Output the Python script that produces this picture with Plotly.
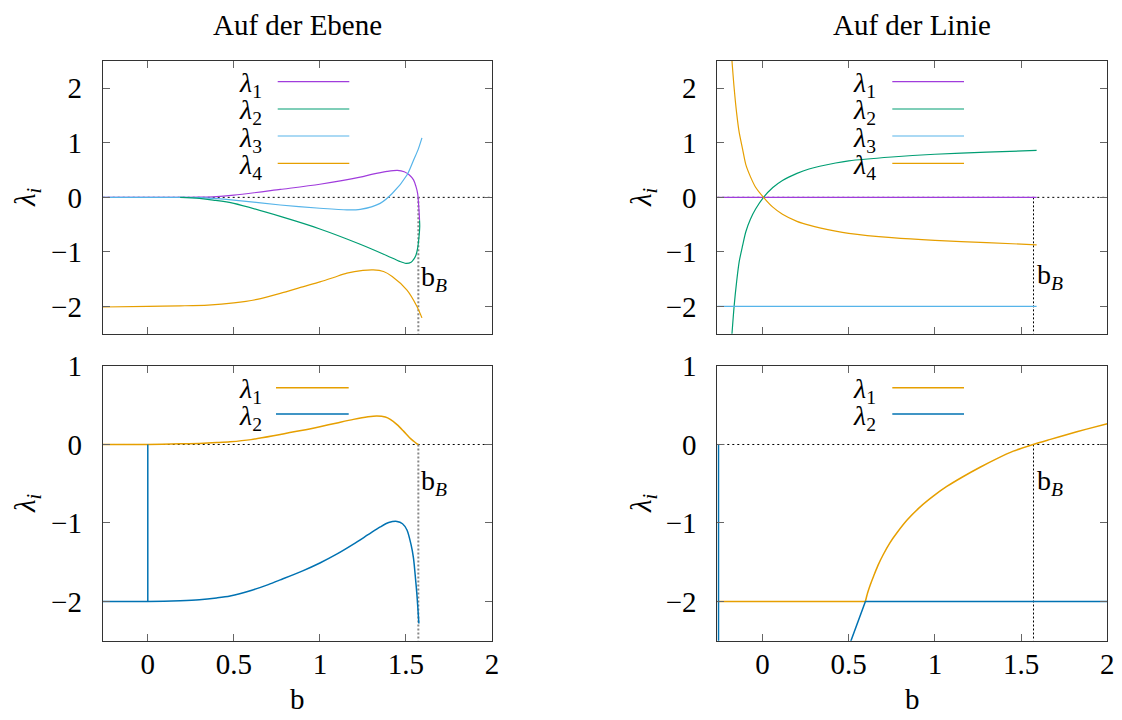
import plotly.graph_objects as go

W, H = 1122, 720
OFF = 8  # page body margin compensation
def px(x): return (x - OFF) / W
def py(y): return 1 - (y - OFF) / H

FONT = "Liberation Serif"
X_RANGE = [-0.262, 2.0]
B_B = 1.572
X_TICKS = [0, 0.5, 1, 1.5, 2]
X_TICKTEXT = ["0", "0.5", "1", "1.5", "2"]

PURPLE, GREEN, SKY, ORANGE, BLUE = "#A03CDC", "#009E73", "#56B4E9", "#E69F00", "#0072B2"

# ---------------- "Auf der Ebene" (top-left) ----------------
ebene_b1 = [-0.262, 0.0, 0.2, 0.3, 0.38, 0.5, 0.77, 1.0, 1.234, 1.3, 1.39, 1.45, 1.49, 1.52, 1.544, 1.558, 1.568, 1.574, 1.578, 1.579]
ebene_l1 = [0.0, 0.0, 0.0, 0.003, 0.01, 0.04, 0.146, 0.24, 0.37, 0.42, 0.475, 0.495, 0.47, 0.41, 0.32, 0.2, 0.07, -0.15, -0.35, -0.42]

ebene_b2 = [0.188, 0.3, 0.38, 0.5, 0.77, 1.0, 1.234, 1.39, 1.46, 1.5, 1.53, 1.544, 1.558, 1.568, 1.575, 1.58, 1.579]
ebene_l2 = [0.0, -0.02, -0.05, -0.11, -0.35, -0.58, -0.86, -1.07, -1.17, -1.21, -1.19, -1.14, -1.06, -0.93, -0.75, -0.54, -0.42]

ebene_b3 = [-0.262, 0.2, 0.3, 0.38, 0.5, 0.77, 1.0, 1.157, 1.234, 1.35, 1.42, 1.506, 1.544, 1.57, 1.593]
ebene_l3 = [0.0, 0.0, -0.005, -0.02, -0.05, -0.14, -0.2, -0.23, -0.22, -0.11, 0.07, 0.41, 0.68, 0.87, 1.09]

ebene_b4 = [-0.262, 0.0, 0.188, 0.35, 0.5, 0.635, 0.77, 0.9, 1.0, 1.08, 1.157, 1.25, 1.31, 1.37, 1.42, 1.506, 1.564, 1.593]
ebene_l4 = [-2.01, -2.0, -1.99, -1.975, -1.935, -1.87, -1.76, -1.64, -1.55, -1.47, -1.39, -1.34, -1.33, -1.36, -1.45, -1.7, -2.0, -2.21]

# ---------------- "Auf der Linie" (top-right) ----------------
linie_b13 = [-0.262, 1.59]
linie_l1 = [0.0, 0.0]
linie_l3 = [-2.0, -2.0]
linie_b24 = [-0.178, -0.164, -0.15, -0.135, -0.115, -0.0965, -0.07, -0.039, 0.006, 0.06, 0.116, 0.2, 0.27, 0.424, 0.5, 0.75, 1.0, 1.3, 1.59]
linie_l2 = [-2.55, -1.98, -1.55, -1.18, -0.88, -0.63, -0.4, -0.21, 0.0, 0.18, 0.31, 0.44, 0.52, 0.63, 0.67, 0.74, 0.79, 0.83, 0.86]
linie_l4 = [2.55, 1.99, 1.55, 1.19, 0.88, 0.6, 0.38, 0.18, 0.0, -0.18, -0.31, -0.44, -0.51, -0.62, -0.66, -0.74, -0.79, -0.83, -0.87]

# ---------------- bottom-left ----------------
ebene2_b1 = [-0.262, 0.0, 0.188, 0.3, 0.4, 0.478, 0.6, 0.77, 0.9, 1.0, 1.1, 1.195, 1.28, 1.331, 1.38, 1.409, 1.45, 1.486, 1.52, 1.544, 1.56, 1.572]
ebene2_l1 = [0.0, 0.0, 0.008, 0.014, 0.024, 0.034, 0.062, 0.128, 0.18, 0.226, 0.275, 0.32, 0.352, 0.362, 0.35, 0.32, 0.25, 0.17, 0.09, 0.043, 0.015, 0.0]
ebene2_b2 = [-0.262, 0.0, 0.188, 0.3, 0.4, 0.478, 0.6, 0.7, 0.77, 0.9, 1.0, 1.1, 1.195, 1.28, 1.351, 1.4, 1.448, 1.48, 1.506, 1.53, 1.544, 1.556, 1.564, 1.575]
ebene2_l2 = [-2.0, -2.0, -1.99, -1.978, -1.955, -1.93, -1.86, -1.785, -1.725, -1.61, -1.51, -1.395, -1.27, -1.15, -1.05, -0.995, -0.98, -1.01, -1.09, -1.28, -1.45, -1.72, -1.92, -2.28]
ebene2_spike_b = [0.0, 0.0]
ebene2_spike_l = [-2.0, 0.0]

# ---------------- bottom-right ----------------
linie2_flat_b = [-0.262, 0.597]
linie2_flat_l = [-2.0, -2.0]
linie2_b1 = [0.597, 0.61, 0.625, 0.645, 0.67, 0.7, 0.74, 0.78, 0.84, 0.915, 1.0, 1.069, 1.16, 1.262, 1.36, 1.455, 1.57, 1.67, 1.763, 1.88, 2.0]
linie2_l1 = [-2.0, -1.89, -1.79, -1.675, -1.54, -1.405, -1.25, -1.125, -0.96, -0.795, -0.643, -0.535, -0.414, -0.29, -0.18, -0.085, 0.0, 0.065, 0.124, 0.196, 0.265]
linie2_b2 = [-0.255, -0.255, None, 0.505, 0.597, 2.0]
linie2_l2 = [0.0, -2.6, None, -2.55, -2.0, -2.0]

fig = go.Figure()

def add(x, y, color, ax, width, smooth=False):
    line = dict(color=color, width=width)
    if smooth:
        line.update(shape="spline", smoothing=0.8)
    fig.add_trace(go.Scatter(x=x, y=y, mode="lines", line=line,
                             xaxis="x" + ax, yaxis="y" + ax, showlegend=False, hoverinfo="skip"))

# top-left
add(ebene_b1, ebene_l1, PURPLE, "", 1.2, True)
add(ebene_b3, ebene_l3, SKY, "", 1.2, True)
add(ebene_b2, ebene_l2, GREEN, "", 1.2, True)
add(ebene_b4, ebene_l4, ORANGE, "", 1.2, True)
# top-right
add(linie_b13, linie_l1, PURPLE, "2", 1.2)
add(linie_b24, linie_l2, GREEN, "2", 1.2, True)
add(linie_b13, linie_l3, SKY, "2", 1.2)
add(linie_b24, linie_l4, ORANGE, "2", 1.2, True)
# bottom-left
add(ebene2_b1, ebene2_l1, ORANGE, "3", 1.5, True)
add(ebene2_b2, ebene2_l2, BLUE, "3", 1.5, True)
add(ebene2_spike_b, ebene2_spike_l, BLUE, "3", 1.5)
# bottom-right
add(linie2_flat_b, linie2_flat_l, ORANGE, "4", 1.5)
add(linie2_b1, linie2_l1, ORANGE, "4", 1.5, True)
add(linie2_b2, linie2_l2, BLUE, "4", 1.5)

LEFT_X = [px(102.7), px(492)]
RIGHT_X = [px(717.3), px(1107.3)]
TOP_Y = [py(333.7), py(61)]
BOT_Y = [py(640.7), py(366)]

tickfont = dict(family=FONT, size=29, color="black")
common = dict(showline=True, linecolor="#333", linewidth=1, mirror="ticks", ticks="inside",
              ticklen=7, tickcolor="#666", tickwidth=1, showgrid=False, zeroline=False,
              tickfont=tickfont, fixedrange=True, automargin=False)

def xax(domain, anchor, labels):
    return dict(common, domain=domain, anchor=anchor, range=X_RANGE, tickvals=X_TICKS,
                ticktext=X_TICKTEXT, showticklabels=labels, ticklabelstandoff=-3)

def yax(domain, anchor, rng, vals):
    return dict(common, domain=domain, anchor=anchor, range=rng, tickvals=vals,
                ticktext=[str(v).replace("-", "\u2212") for v in vals], ticklabelstandoff=14)

TOP_YT = [-2, -1, 0, 1, 2]
BOT_YT = [-2, -1, 0, 1]

fig.update_layout(
    template="none",
    width=W, height=H, margin=dict(l=0, r=0, t=0, b=0, pad=0), autosize=False,
    font=dict(family=FONT, size=27, color="black"),
    plot_bgcolor="white", paper_bgcolor="white", showlegend=False,
    xaxis=xax(LEFT_X, "y", False), yaxis=yax(TOP_Y, "x", [-2.5, 2.5], TOP_YT),
    xaxis2=xax(RIGHT_X, "y2", False), yaxis2=yax(TOP_Y, "x2", [-2.5, 2.5], TOP_YT),
    xaxis3=xax(LEFT_X, "y3", True), yaxis3=yax(BOT_Y, "x3", [-2.5, 1], BOT_YT),
    xaxis4=xax(RIGHT_X, "y4", True), yaxis4=yax(BOT_Y, "x4", [-2.5, 1], BOT_YT),
)

shapes = []
annotations = []
panels = [("", -2.5, "#888", 2, -1.48), ("2", -2.5, "black", 1, -1.46),
          ("3", -2.5, "#888", 2, -0.485), ("4", -2.5, "black", 1, -0.485)]
for ax, ybot, vcol, vw, labely in panels:
    xr = "x" + ax
    yr = "y" + ax
    shapes.append(dict(type="line", xref=xr + " domain", yref=yr, x0=0, x1=1, y0=0, y1=0,
                       line=dict(color="black", width=1, dash="2px,3px"), layer="below"))
    shapes.append(dict(type="line", xref=xr, yref=yr, x0=B_B, x1=B_B, y0=0, y1=ybot,
                       line=dict(color=vcol, width=vw, dash="2px,2px"), layer="below"))
    annotations.append(dict(xref=xr, yref=yr, x=B_B, y=labely, xanchor="left", yanchor="middle",
                            xshift=1, showarrow=False, text="b<sub><i>B</i></sub>",
                            font=dict(family=FONT, size=28, color="black")))

def key(text_right, line_x0, line_x1, ys, labels, colors, width):
    for y, lab, col in zip(ys, labels, colors):
        annotations.append(dict(xref="paper", yref="paper", x=px(text_right), y=py(y + 3),
                                xanchor="right", yanchor="middle", showarrow=False, text=lab,
                                font=dict(family=FONT, size=28, color="black")))
        shapes.append(dict(type="line", xref="paper", yref="paper", x0=px(line_x0), x1=px(line_x1),
                           y0=py(y), y1=py(y), line=dict(color=col, width=width)))

L4 = ["<i>λ</i><sub>1</sub>", "<i>λ</i><sub>2</sub>", "<i>λ</i><sub>3</sub>", "<i>λ</i><sub>4</sub>"]
key(264, 277.7, 349.3, [81.7, 109, 136, 163.3], L4, [PURPLE, GREEN, SKY, ORANGE], 1.2)
key(878, 892.3, 964, [81.7, 109, 136, 163.3], L4, [PURPLE, GREEN, SKY, ORANGE], 1.2)
key(264, 276, 348.7, [387.7, 414], L4[:2], [ORANGE, BLUE], 1.5)
key(878, 892.3, 964, [387.7, 414], L4[:2], [ORANGE, BLUE], 1.5)

for x, t in [(297.5, "Auf der Ebene"), (912, "Auf der Linie")]:
    annotations.append(dict(xref="paper", yref="paper", x=px(x), y=py(25), xanchor="center",
                            yanchor="middle", showarrow=False, text=t,
                            font=dict(family=FONT, size=29, color="black")))
for x in [297.5, 912]:
    annotations.append(dict(xref="paper", yref="paper", x=px(x), y=py(699), xanchor="center",
                            yanchor="middle", showarrow=False, text="b",
                            font=dict(family=FONT, size=29, color="black")))
for x in [27, 643]:
    for y in [197, 503]:
        annotations.append(dict(xref="paper", yref="paper", x=px(x), y=py(y), xanchor="center",
                                yanchor="middle", showarrow=False, textangle=-90,
                                text="<i>λ</i><sub><i>i</i></sub>",
                                font=dict(family=FONT, size=29, color="black")))

fig.update_layout(shapes=shapes, annotations=annotations)
fig.write_html("out.html")
